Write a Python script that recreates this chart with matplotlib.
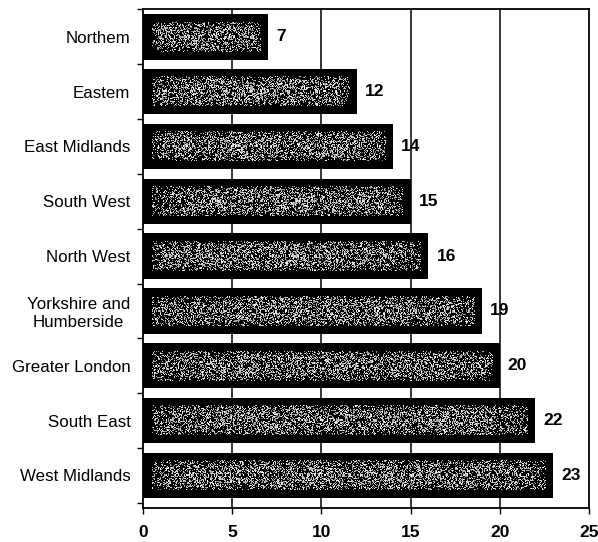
import numpy as np
import matplotlib.pyplot as plt
from matplotlib.patches import Rectangle

regions = ['Northem', 'Eastem', 'East Midlands', 'South West', 'North West',
           'Yorkshire and\nHumberside', 'Greater London', 'South East', 'West Midlands']
values = [7, 12, 14, 15, 16, 19, 20, 22, 23]
xticks = [0, 5, 10, 15, 20, 25]

plt.rcParams['font.family'] = ['Liberation Sans', 'DejaVu Sans']

fig = plt.figure(figsize=(5.98, 5.42), dpi=100)
ax = fig.add_axes([0.239, 0.0627, 0.746, 0.920])

n = len(regions)
ypos = np.arange(n)[::-1]  # first region at the top
bar_h = 0.83

ax.set_xlim(0, 25)
ax.set_ylim(-0.415 - 0.18, n - 1 + 0.415 + 0.01)

# pixel size of one data unit, for the border and the speckle grid
px_x = ax.get_position().width * fig.get_figwidth() * fig.dpi / 25
px_y = ax.get_position().height * fig.get_figheight() * fig.dpi / (ax.get_ylim()[1] - ax.get_ylim()[0])
bx = 8 / px_x
by = 8 / px_y

rng = np.random.default_rng(7)
for y, v in zip(ypos, values):
    ax.add_patch(Rectangle((0, y - bar_h / 2), v, bar_h, facecolor='black',
                           edgecolor='none', zorder=2))
    x0, x1 = bx * 1.1, v - bx
    y0, y1 = y - bar_h / 2 + by, y + bar_h / 2 - by
    w = max(int((x1 - x0) * px_x), 2)
    h = max(int((y1 - y0) * px_y), 2)
    # speckled grey fill: white grains on black, thinning out toward the edges
    yy = np.linspace(-1, 1, h)[:, None]
    xx = np.linspace(-1, 1, w)[None, :]
    fade = (1 - 0.5 * yy ** 4) * (1 - 0.4 * np.abs(xx) ** 8)
    grain = (rng.random((h, w)) < 0.45 * fade) * (0.5 + 0.5 * rng.random((h, w)))
    ax.imshow(grain, cmap='gray', vmin=0, vmax=1, extent=(x0, x1, y0, y1),
              interpolation='nearest', aspect='auto', zorder=3)
    ax.text(v + 0.45, y, str(v), ha='left', va='center', fontsize=12.5,
            fontweight='bold', zorder=4)

ax.set_xticks(xticks)
ax.set_xticklabels([str(t) for t in xticks], fontweight='bold', fontsize=12.5)
ax.set_yticks(ypos)
ax.set_yticklabels(regions, fontsize=12.2, multialignment='center')
ax.set_yticks(np.arange(n + 1) - 0.5, minor=True)
ax.tick_params(axis='y', which='major', length=0, pad=9)
ax.tick_params(axis='y', which='minor', length=4, direction='out', width=1)
ax.tick_params(axis='x', which='major', length=4, direction='out', width=1, pad=8)

for t in xticks[1:-1]:
    ax.axvline(t, color='black', lw=1.1, zorder=1)
for s in ax.spines.values():
    s.set_linewidth(1.3)
    s.set_color('black')

fig.savefig('out.png', dpi=100)
